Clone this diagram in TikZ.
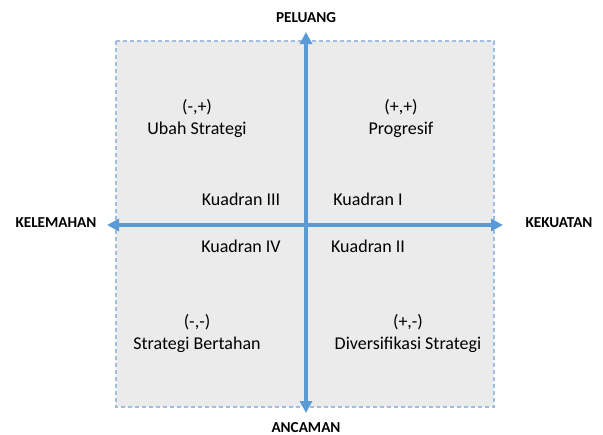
\documentclass[tikz,border=0pt]{standalone}
\usepackage{fontspec}
\setmainfont{Carlito}
\usetikzlibrary{arrows.meta, positioning}
\definecolor{quadgray}{RGB}{235, 235, 235}
\definecolor{edgeblue}{RGB}{157, 189, 226}
\definecolor{axisblue}{RGB}{91, 155, 213}

\begin{document}
\begin{tikzpicture}[
  x=0.5pt, y=-0.5pt,
  axislabel/.style={font=\fontsize{7.6}{9}\selectfont\bfseries, inner sep=1pt},
  quad/.style={font=\fontsize{9}{11}\selectfont, inner sep=1pt, align=center},
  axis/.style={{Triangle[length=6pt, width=6pt]}-{Triangle[length=6pt, width=6pt]}, line width=2pt, axisblue},
]
\useasboundingbox (0,0) rectangle (603,434);

% Background field
\draw[fill=quadgray, draw=edgeblue, dashed, dash pattern=on 2pt off 1.5pt, line width=0.6pt]
  (116,41) rectangle (494,407);

% Axis ends
\coordinate (top) at (306,32);
\coordinate (bottom) at (306,413);
\coordinate (left) at (107,225);
\coordinate (right) at (503,225);

% Axes
\draw[axis] (bottom) -- (top);
\draw[axis] (left) -- (right);

% Axis labels
\node[axislabel] (peluang) at (306,18) {PELUANG};
\node[axislabel] (ancaman) at (306,428) {ANCAMAN};
\node[axislabel] (kelemahan) at (56,223) {KELEMAHAN};
\node[axislabel] (kekuatan) at (559,223) {KEKUATAN};

% Strategies
\node[quad] (ubah) at (197,118) {(-,+)\\Ubah Strategi};
\node[quad] (progresif) at (401,118) {(+,+)\\Progresif};
\node[quad] (bertahan) at (197,333) {(-,-)\\Strategi Bertahan};
\node[quad] (diversi) at (408,333) {(+,-)\\Diversifikasi Strategi};

% Quadrant names
\node[quad] (k3) at (241,199) {Kuadran III};
\node[quad] (k1) at (368,199) {Kuadran I};
\node[quad] (k4) at (241,246) {Kuadran IV};
\node[quad] (k2) at (368,246) {Kuadran II};
\end{tikzpicture}
\end{document}
